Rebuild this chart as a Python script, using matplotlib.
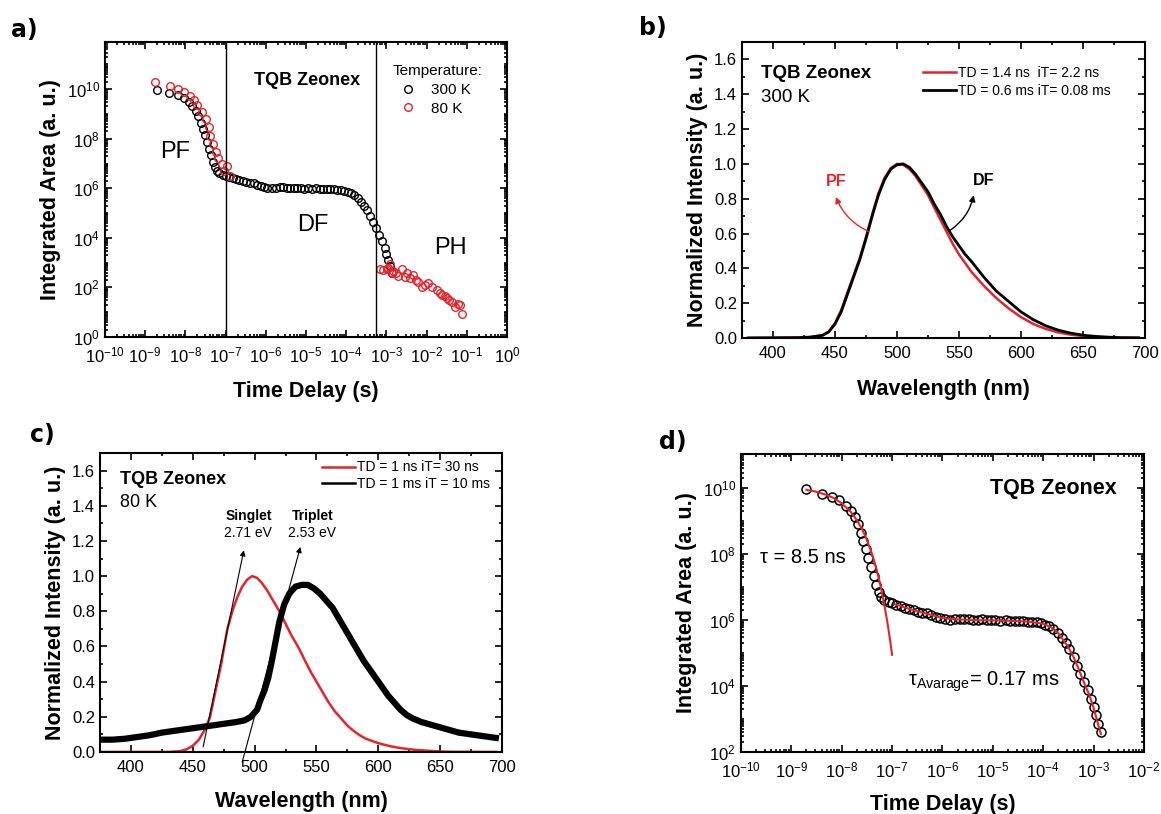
import numpy as np
import matplotlib
matplotlib.use('Agg')
import matplotlib.pyplot as plt
from matplotlib.ticker import LogLocator, FixedLocator, MultipleLocator, NullFormatter

plt.rcParams['font.family'] = ['Liberation Sans', 'DejaVu Sans']
plt.rcParams['mathtext.default'] = 'regular'
plt.rcParams['axes.linewidth'] = 1.5

RED = '#e3242b'

##Time resolved decay at 300 K (panels a and d)
t300 = [2.0e-9, 4.0e-9, 6.5e-9, 9.0e-9, 1.2e-8, 1.5e-8, 1.8e-8, 2.1e-8, 2.4e-8, 2.7e-8,
        3.0e-8, 3.4e-8, 3.8e-8, 4.3e-8, 4.8e-8, 5.4e-8, 6.0e-8, 7.0e-8, 8.5e-8, 1.0e-7,
        1.2e-7, 1.5e-7, 1.8e-7, 2.2e-7, 2.7e-7, 3.3e-7, 4.0e-7, 5.0e-7, 6.0e-7, 7.5e-7,
        9.0e-7, 1.1e-6, 1.4e-6, 1.8e-6, 2.2e-6, 2.7e-6, 3.3e-6, 4.0e-6, 5.0e-6, 6.0e-6,
        7.5e-6, 9.0e-6, 1.1e-5, 1.4e-5, 1.8e-5, 2.2e-5, 2.7e-5, 3.3e-5, 4.0e-5, 5.0e-5,
        6.0e-5, 7.5e-5, 9.0e-5, 1.1e-4, 1.3e-4, 1.6e-4, 2.0e-4, 2.4e-4, 2.8e-4, 3.3e-4,
        4.0e-4, 4.7e-4, 5.5e-4, 6.5e-4, 7.8e-4, 9.0e-4, 1.0e-3, 1.1e-3, 1.2e-3, 1.4e-3]
y300 = [9.3e9, 6.7e9, 5.6e9, 4.4e9, 3.0e9, 2.0e9, 1.3e9, 8.0e8, 4.5e8, 2.5e8,
        1.4e8, 7.5e7, 4.0e7, 2.2e7, 1.2e7, 7.0e6, 5.0e6, 4.0e6, 3.5e6, 3.2e6,
        2.9e6, 2.6e6, 2.4e6, 2.2e6, 2.0e6, 1.8e6, 1.7e6, 1.6e6, 1.4e6, 1.25e6,
        1.15e6, 1.05e6, 1.0e6, 1.05e6, 1.1e6, 1.1e6, 1.05e6, 1.0e6, 1.0e6, 1.05e6,
        1.0e6, 9.8e5, 1.0e6, 9.7e5, 1.0e6, 9.6e5, 9.5e5, 9.3e5, 9.2e5, 9.0e5,
        8.7e5, 8.5e5, 8.0e5, 7.2e5, 6.5e5, 5.2e5, 4.0e5, 2.8e5, 2.0e5, 1.3e5,
        7.7e4, 4.2e4, 2.4e4, 1.3e4, 7.4e3, 4.0e3, 2.3e3, 1.3e3, 7.2e2, 4.0e2]

##Time resolved decay at 80 K (panel a)
t80 = [1.8e-9, 4.1e-9, 6.4e-9, 9.3e-9, 1.27e-8, 1.66e-8, 2.0e-8, 2.6e-8, 3.2e-8, 3.9e-8,
       4.2e-8, 4.9e-8, 5.8e-8, 6.6e-8, 8.1e-8, 9.0e-8, 1.07e-7, 1.26e-7,
       6.9e-4, 8.4e-4, 1.02e-3, 1.1e-3, 1.23e-3, 1.35e-3, 1.5e-3, 1.78e-3, 2.0e-3, 2.4e-3,
       2.9e-3, 3.3e-3, 3.9e-3, 4.7e-3, 5.5e-3, 6.2e-3, 7.6e-3, 9.1e-3, 1.1e-2, 1.35e-2,
       1.78e-2, 2.1e-2, 2.4e-2, 2.8e-2, 3.2e-2, 3.7e-2, 4.2e-2, 5.1e-2, 6.0e-2, 6.8e-2, 7.4e-2]
y80 = [1.9e10, 1.4e10, 1.0e10, 7.4e9, 5.5e9, 3.5e9, 2.2e9, 1.2e9, 6.3e8, 2.9e8,
       1.3e8, 6.3e7, 2.9e7, 1.6e7, 1.0e7, 4.9e6, 8.3e6, 3.0e6,
       580, 500, 530, 600, 870, 390, 450, 365, 300, 530,
       270, 400, 230, 310, 200, 167, 105, 123, 150, 105,
       78, 60, 49, 45, 36, 30, 26, 17, 22, 19.5, 8.5]

##Fits (panel d)
fitPF_t = [2e-9, 3e-9, 5e-9, 7e-9, 1e-8, 1.5e-8, 2e-8, 2.5e-8, 3e-8, 4e-8,
           5e-8, 6e-8, 7e-8, 8e-8, 9e-8, 1e-7]
fitPF_y = [9.0e9, 8.0e9, 6.3e9, 5.0e9, 3.5e9, 1.95e9, 1.08e9, 6.0e8, 3.3e8, 1.03e8,
           3.2e7, 9.8e6, 3.0e6, 9.3e5, 2.9e5, 8.9e4]
fitDF_t = [1.1e-7, 2e-7, 3e-7, 5e-7, 1e-6, 2e-6, 5e-6, 1e-5, 2e-5, 5e-5, 1e-4, 1.5e-4,
           2e-4, 3e-4, 4e-4, 5e-4, 6e-4, 7e-4, 8e-4, 9e-4, 1e-3, 1.2e-3, 1.4e-3]
fitDF_y = [3.1e6, 2.3e6, 1.9e6, 1.55e6, 1.15e6, 1.05e6, 1.0e6, 9.8e5, 9.6e5, 9.0e5, 7.8e5, 5.8e5,
           4.0e5, 1.7e5, 7.7e4, 3.4e4, 1.7e4, 9.5e3, 6.0e3, 3.6e3, 2.2e3, 8.0e2, 3.5e2]

##Spectra at 300 K (panel b)
wlB = [380, 420, 430, 440, 445, 450, 455, 460, 465, 470, 475, 480, 485, 490, 495, 500,
       505, 510, 515, 520, 525, 530, 535, 540, 545, 550, 555, 560, 570, 580, 590, 600,
       610, 620, 630, 640, 650, 660, 670, 680, 695]
pfB = [0.0, 0.002, 0.005, 0.016, 0.037, 0.085, 0.16, 0.26, 0.36, 0.46, 0.58, 0.71, 0.83, 0.92, 0.975, 1.0,
       0.995, 0.97, 0.93, 0.875, 0.82, 0.75, 0.68, 0.61, 0.54, 0.48, 0.43, 0.38, 0.3, 0.23, 0.17, 0.12,
       0.08, 0.052, 0.032, 0.019, 0.011, 0.006, 0.003, 0.001, 0.0]
dfB = [0.0, 0.002, 0.005, 0.015, 0.035, 0.08, 0.15, 0.25, 0.35, 0.45, 0.57, 0.70, 0.82, 0.91, 0.97, 0.995,
       1.0, 0.98, 0.94, 0.89, 0.84, 0.77, 0.71, 0.64, 0.58, 0.53, 0.48, 0.44, 0.35, 0.27, 0.21, 0.15,
       0.105, 0.07, 0.045, 0.028, 0.016, 0.009, 0.005, 0.002, 0.001]

##Spectra at 80 K (panel c)
wlC_red = [375, 430, 440, 445, 450, 455, 460, 464, 467, 470, 473, 475.5, 478, 482, 486, 490,
           494, 498, 502, 506, 510, 515, 520, 525, 530, 535, 540, 545, 550, 555, 560, 565,
           570, 575, 580, 585, 590, 600, 610, 620, 630, 640, 650, 660, 695]
intC_red = [0.0, 0.0, 0.005, 0.015, 0.035, 0.07, 0.13, 0.2, 0.3, 0.4, 0.5, 0.6, 0.7, 0.8, 0.88, 0.94,
            0.98, 1.0, 0.99, 0.96, 0.92, 0.86, 0.8, 0.73, 0.66, 0.6, 0.53, 0.46, 0.4, 0.34, 0.28, 0.23,
            0.19, 0.15, 0.12, 0.095, 0.075, 0.05, 0.032, 0.02, 0.012, 0.007, 0.003, 0.001, 0.0]
wlC_blk = [375, 385, 395, 405, 415, 425, 435, 445, 455, 465, 475, 485, 492, 497, 502, 505,
           508, 511, 514, 517, 520, 524, 528, 533, 538, 543, 548, 553, 558, 563, 568, 573,
           578, 583, 588, 593, 598, 603, 608, 613, 618, 623, 628, 635, 645, 655, 665, 675, 685, 695]
intC_blk = [0.07, 0.07, 0.075, 0.085, 0.095, 0.11, 0.12, 0.13, 0.14, 0.15, 0.16, 0.17, 0.18, 0.2, 0.24, 0.3,
            0.35, 0.42, 0.52, 0.63, 0.74, 0.84, 0.9, 0.94, 0.95, 0.95, 0.93, 0.9, 0.86, 0.82, 0.76, 0.7,
            0.64, 0.58, 0.52, 0.47, 0.42, 0.37, 0.32, 0.28, 0.24, 0.21, 0.19, 0.17, 0.15, 0.13, 0.11, 0.1, 0.09, 0.08]


##Common tick styling
def styleTicks(ax):
    ax.tick_params(which='both', direction='in', top=True, right=True, labelsize=12, width=1.2)
    ax.tick_params(which='major', length=5)
    ax.tick_params(which='minor', length=2.5)
    ax.tick_params(axis='x', which='major', pad=6)


def logAxes(ax, xlo, xhi, ylo, yhi, yMajors):
    ax.set_xscale('log')
    ax.set_yscale('log')
    ax.set_xlim(xlo, xhi)
    ax.set_ylim(ylo, yhi)
    ax.xaxis.set_major_locator(LogLocator(base=10, numticks=30))
    ax.xaxis.set_minor_locator(LogLocator(base=10, subs=np.arange(2, 10), numticks=30))
    ax.xaxis.set_minor_formatter(NullFormatter())
    ax.yaxis.set_major_locator(FixedLocator(yMajors))
    ax.yaxis.set_minor_locator(LogLocator(base=10, subs=np.arange(1, 10), numticks=30))
    ax.yaxis.set_minor_formatter(NullFormatter())
    styleTicks(ax)


def specAxes(ax, xpad):
    ax.set_xlim(375, 700)
    ax.set_ylim(0, 1.7)
    ax.xaxis.set_major_locator(MultipleLocator(50))
    ax.xaxis.set_minor_locator(MultipleLocator(25))
    ax.yaxis.set_major_locator(MultipleLocator(0.2))
    ax.yaxis.set_minor_locator(MultipleLocator(0.1))
    ax.yaxis.set_major_formatter(plt.FuncFormatter(lambda v, p: f"{v:.1f}"))
    styleTicks(ax)
    ax.set_xlabel("Wavelength (nm)", fontsize=15.5, fontweight='bold', labelpad=xpad)
    ax.set_ylabel("Normalized Intensity (a. u.)", fontsize=15.5, fontweight='bold')


fig = plt.figure(figsize=(11.61, 8.14), dpi=100)
axA = fig.add_axes([0.0904, 0.586, 0.3463, 0.3624])
axB = fig.add_axes([0.6391, 0.5848, 0.3471, 0.3636])
axC = fig.add_axes([0.0861, 0.0762, 0.3463, 0.3673])
axD = fig.add_axes([0.6382, 0.0762, 0.3471, 0.3661])

##Panel a
axA.plot(t300, y300, 'o', mfc='none', mec='black', ms=5.5, mew=1.0, label='300 K')
axA.plot(t80, y80, 'o', mfc='none', mec=RED, ms=5.5, mew=1.0, label='80 K')
axA.axvline(1e-7, color='black', lw=1)
axA.axvline(5.5e-4, color='black', lw=1)
logAxes(axA, 1e-10, 1e0, 1e0, 8e11, [10.0 ** k for k in range(0, 12, 2)])
axA.set_xlabel("Time Delay (s)", fontsize=15.5, fontweight='bold', labelpad=11)
axA.set_ylabel("Integrated Area (a. u.)", fontsize=15.5, fontweight='bold')
axA.text(0.502, 0.871, "TQB Zeonex", transform=axA.transAxes, ha='center', va='center',
         fontsize=13, fontweight='bold')
axA.text(0.174, 0.627, "PF", transform=axA.transAxes, ha='center', va='center', fontsize=17)
axA.text(0.517, 0.38, "DF", transform=axA.transAxes, ha='center', va='center', fontsize=17)
axA.text(0.86, 0.30, "PH", transform=axA.transAxes, ha='center', va='center', fontsize=17)
legA = axA.legend(title="Temperature:", loc='upper left', bbox_to_anchor=(0.70, 0.945),
                  frameon=False, fontsize=11, title_fontsize=11, handlelength=2.0,
                  handletextpad=0.5, labelspacing=0.3, borderaxespad=0, alignment='left')

##Panel b
axB.plot(wlB, pfB, color=RED, lw=1.8, label="TD = 1.4 ns  iT= 2.2 ns")
axB.plot(wlB, dfB, color='black', lw=2.0, label="TD = 0.6 ms iT= 0.08 ms")
specAxes(axB, 13)
axB.legend(loc='upper left', bbox_to_anchor=(0.449, 0.92), frameon=False, fontsize=10,
           handlelength=2.4, handletextpad=0.15, labelspacing=0.3, borderaxespad=0, borderpad=0)
axB.text(0.047, 0.895, "TQB Zeonex", transform=axB.transAxes, va='center', fontsize=13.5, fontweight='bold')
axB.text(0.047, 0.814, "300 K", transform=axB.transAxes, va='center', fontsize=13.5)
axB.text(451, 0.897, "PF", color=RED, ha='center', va='center', fontsize=11.5, fontweight='bold')
axB.text(570, 0.906, "DF", color='black', ha='center', va='center', fontsize=11.5, fontweight='bold')
axB.annotate('', xy=(450.7, 0.81), xytext=(477.6, 0.61),
             arrowprops=dict(arrowstyle='-|>', color=RED, lw=1.0, mutation_scale=9,
                             shrinkA=0, shrinkB=0, connectionstyle='arc3,rad=-0.2'))
axB.annotate('', xy=(561.8, 0.82), xytext=(543, 0.619),
             arrowprops=dict(arrowstyle='-|>', color='black', lw=1.0, mutation_scale=9,
                             shrinkA=0, shrinkB=0, connectionstyle='arc3,rad=0.2'))

##Panel c
axC.plot(wlC_red, intC_red, color=RED, lw=1.8, label="TD = 1 ns iT= 30 ns", zorder=2)
axC.plot(wlC_blk, intC_blk, color='black', lw=4.5, label="TD = 1 ms iT = 10 ms", zorder=3)
specAxes(axC, 11)
legC = axC.legend(loc='upper left', bbox_to_anchor=(0.552, 0.975), frameon=False, fontsize=10,
                  handlelength=2.4, handletextpad=0.15, labelspacing=0.2, borderaxespad=0, borderpad=0)
for line in legC.get_lines():
    line.set_linewidth(1.8)
axC.text(0.05, 0.91, "TQB Zeonex", transform=axC.transAxes, va='center', fontsize=13, fontweight='bold')
axC.text(0.05, 0.833, "80 K", transform=axC.transAxes, va='center', fontsize=13)
axC.text(495, 1.344, "Singlet", ha='center', va='center', fontsize=10, fontweight='bold')
axC.text(495, 1.243, "2.71 eV", ha='center', va='center', fontsize=10)
axC.text(546.7, 1.344, "Triplet", ha='center', va='center', fontsize=10, fontweight='bold')
axC.text(546.7, 1.243, "2.53 eV", ha='center', va='center', fontsize=10)
axC.annotate('', xy=(491.3, 1.147), xytext=(458.4, 0.029), annotation_clip=False,
             arrowprops=dict(arrowstyle='-|>', color='black', lw=0.8, mutation_scale=8, shrinkA=0, shrinkB=0),
             zorder=5)
axC.annotate('', xy=(537, 1.166), xytext=(490, -0.057), annotation_clip=False,
             arrowprops=dict(arrowstyle='-|>', color='black', lw=0.8, mutation_scale=8, shrinkA=0, shrinkB=0),
             zorder=5)

##Panel d
axD.plot(t300, y300, 'o', mfc='none', mec='black', ms=6.5, mew=1.1, zorder=2)
axD.plot(fitPF_t, fitPF_y, color=RED, lw=1.5, zorder=3)
axD.plot(fitDF_t, fitDF_y, color=RED, lw=1.5, zorder=3)
logAxes(axD, 1e-10, 1e-2, 1e2, 1.1e11, [10.0 ** k for k in range(2, 12, 2)])
axD.set_xlabel("Time Delay (s)", fontsize=15.5, fontweight='bold', labelpad=10)
axD.set_ylabel("Integrated Area (a. u.)", fontsize=15.5, fontweight='bold')
axD.text(0.933, 0.883, "TQB Zeonex", transform=axD.transAxes, ha='right', va='center',
         fontsize=15.5, fontweight='bold')
axD.text(0.047, 0.654, "τ = 8.5 ns", transform=axD.transAxes, va='center', fontsize=14.5)
axD.text(0.414, 0.235, "τ$_{Avarage}$= 0.17 ms", transform=axD.transAxes, va='center', fontsize=14.5)

##Panel letters
fig.text(0.0095, 0.963, "a)", fontsize=17, fontweight='bold', family='DejaVu Sans', va='center')
fig.text(0.550, 0.965, "b)", fontsize=17, fontweight='bold', family='DejaVu Sans', va='center')
fig.text(0.026, 0.466, "c)", fontsize=17, fontweight='bold', family='DejaVu Sans', va='center')
fig.text(0.568, 0.457, "d)", fontsize=17, fontweight='bold', family='DejaVu Sans', va='center')

fig.savefig("out.png", dpi=100)
